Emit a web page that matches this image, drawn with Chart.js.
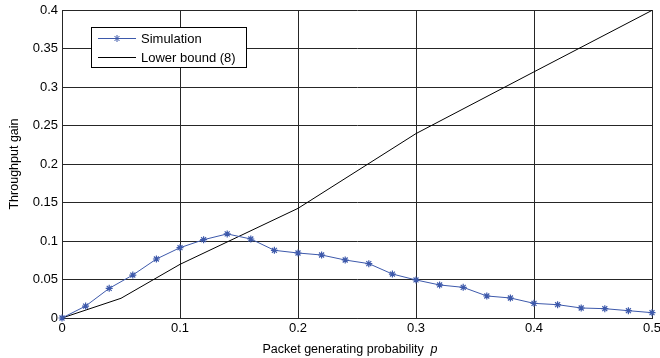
<!DOCTYPE html>
<html>
<head>
<meta charset="utf-8">
<script src="https://cdn.jsdelivr.net/npm/chart.js@4"></script>
<style>
  html, body { margin: 0; padding: 0; background: #fff; }
  #wrap { width: 660px; height: 358px; position: relative; }
</style>
</head>
<body>
<div id="wrap"><canvas id="c" width="660" height="358"></canvas></div>
<script>
// ---- data ----
const simP = [0, 0.02, 0.04, 0.06, 0.08, 0.10, 0.12, 0.14, 0.16, 0.18, 0.20, 0.22, 0.24, 0.26, 0.28, 0.30, 0.32, 0.34, 0.36, 0.38, 0.40, 0.42, 0.44, 0.46, 0.48, 0.50];
const simGain = [0, 0.0155, 0.0385, 0.0558, 0.0766, 0.0913, 0.1017, 0.1092, 0.1026, 0.0879, 0.0844, 0.0818, 0.0753, 0.0706, 0.0571, 0.0494, 0.0429, 0.0398, 0.0286, 0.0260, 0.0190, 0.0173, 0.0130, 0.0121, 0.0095, 0.0069];
const boundP = [0, 0.05, 0.10, 0.20, 0.30, 0.40, 0.50];
const boundGain = [0, 0.0256, 0.0697, 0.1424, 0.2395, 0.3197, 0.3995];
const xTicks = [0, 0.1, 0.2, 0.3, 0.4, 0.5];
const yTicks = [0, 0.05, 0.1, 0.15, 0.2, 0.25, 0.3, 0.35, 0.4];
const seriesLabels = ['Simulation', 'Lower bound (8)'];
const xTitle = 'Packet generating probability  ';
const xTitleVar = 'p';
const yTitle = 'Throughput gain';

const FONT = '"Liberation Sans", Arial, Helvetica, sans-serif';
const BLUE = '#3d59ab';
const GRID = '#262626';

const overlay = {
  id: 'overlay',
  afterDraw(chart) {
    const ctx = chart.ctx;
    const area = chart.chartArea;
    ctx.save();
    ctx.fillStyle = '#000';
    ctx.font = '12.5px ' + FONT;
    ctx.textBaseline = 'middle';
    const w1 = ctx.measureText(xTitle).width;
    ctx.font = 'italic 12.5px ' + FONT;
    const w2 = ctx.measureText(xTitleVar).width;
    const cx = 350;
    let sx = cx - (w1 + w2) / 2;
    ctx.font = '12.5px ' + FONT;
    ctx.textAlign = 'left';
    ctx.fillText(xTitle, sx, 350);
    ctx.font = 'italic 12.5px ' + FONT;
    ctx.fillText(xTitleVar, sx + w1, 350);

    ctx.font = '12.5px ' + FONT;
    ctx.translate(15, (area.top + area.bottom) / 2);
    ctx.rotate(-Math.PI / 2);
    ctx.textAlign = 'center';
    ctx.fillText(yTitle, 0, 0);
    ctx.restore();

    // legend
    ctx.save();
    const lx = 91.5, ly = 27.5, lw = 155, lh = 40;
    ctx.fillStyle = '#fff';
    ctx.fillRect(lx, ly, lw, lh);
    ctx.strokeStyle = '#000';
    ctx.lineWidth = 1;
    ctx.strokeRect(lx, ly, lw, lh);
    const rows = [38.5, 57.5];
    ctx.strokeStyle = BLUE;
    ctx.beginPath(); ctx.moveTo(98, rows[0]); ctx.lineTo(136, rows[0]); ctx.stroke();
    Chart.helpers.drawPoint(ctx, {pointStyle: 'star', radius: 3.5, borderWidth: 1.2}, 117, rows[0]);
    ctx.strokeStyle = '#000';
    ctx.lineWidth = 1;
    ctx.beginPath(); ctx.moveTo(98, rows[1]); ctx.lineTo(136, rows[1]); ctx.stroke();
    ctx.fillStyle = '#000';
    ctx.font = '13px ' + FONT;
    ctx.textAlign = 'left';
    ctx.textBaseline = 'middle';
    ctx.fillText(seriesLabels[0], 141, rows[0] + 1);
    ctx.fillText(seriesLabels[1], 141, rows[1] + 1);
    ctx.restore();
  }
};

const fmt = v => String(+(+v).toFixed(2));

new Chart(document.getElementById('c'), {
  type: 'scatter',
  data: {
    datasets: [
      {
        label: seriesLabels[1],
        data: boundP.map((x, i) => ({x, y: boundGain[i]})),
        showLine: true,
        borderColor: '#000',
        borderWidth: 1,
        pointRadius: 0,
        tension: 0,
        order: 2
      },
      {
        label: seriesLabels[0],
        data: simP.map((x, i) => ({x, y: simGain[i]})),
        showLine: true,
        borderColor: BLUE,
        backgroundColor: BLUE,
        borderWidth: 1,
        pointStyle: 'star',
        pointRadius: 3.5,
        pointBorderWidth: 1.2,
        pointBorderColor: BLUE,
        tension: 0,
        clip: false,
        order: 1
      }
    ]
  },
  options: {
    responsive: false,
    animation: false,
    devicePixelRatio: 1,
    layout: { padding: { left: 0, right: 8, top: 10, bottom: 0 } },
    plugins: { legend: { display: false }, tooltip: { enabled: false } },
    scales: {
      x: {
        type: 'linear', min: 0, max: 0.5,
        afterBuildTicks: s => { s.ticks = xTicks.map(v => ({value: v})); },
        afterFit: s => { s.height = 40; s.paddingRight = 0; s.paddingLeft = 0; },
        grid: { color: GRID, lineWidth: 1, drawTicks: false },
        border: { color: GRID, width: 1 },
        ticks: { callback: fmt, color: '#000', font: { family: FONT, size: 13 }, padding: 3, maxRotation: 0 }
      },
      y: {
        type: 'linear', min: 0, max: 0.4,
        afterBuildTicks: s => { s.ticks = yTicks.map(v => ({value: v})); },
        afterFit: s => { s.width = 62; s.paddingTop = 0; s.paddingBottom = 0; },
        grid: { color: GRID, lineWidth: 1, drawTicks: false },
        border: { color: GRID, width: 1 },
        ticks: { callback: fmt, color: '#000', font: { family: FONT, size: 13 }, padding: 4 }
      }
    }
  },
  plugins: [overlay]
});
</script>
</body>
</html>
